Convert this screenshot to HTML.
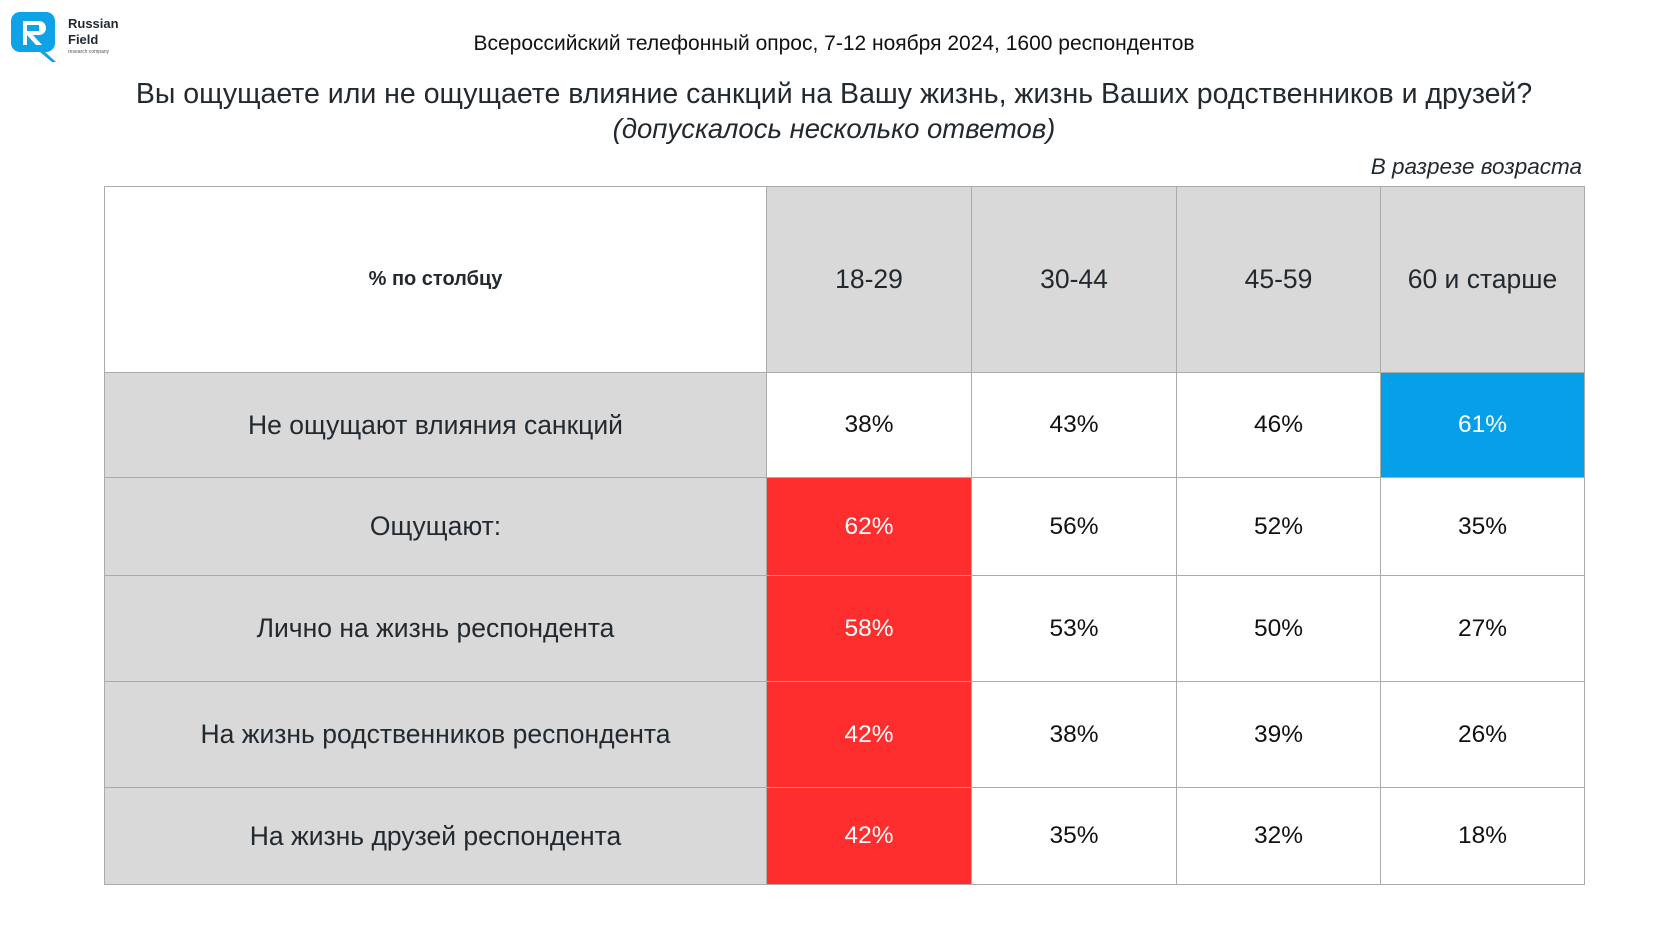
<!DOCTYPE html>
<html><head><meta charset="utf-8">
<style>
html,body{margin:0;padding:0;background:#fff;}
body{width:1680px;height:945px;position:relative;overflow:hidden;font-family:"Liberation Sans","Noto Sans CJK SC",sans-serif;color:#222a30;}
.t{position:absolute;white-space:nowrap;}
.cell{position:absolute;box-sizing:border-box;display:flex;align-items:center;justify-content:center;border:1px solid #ababab;}
</style></head><body>
<div style="position:absolute;left:11px;top:11px;width:110px;height:52px;">
<svg width="48" height="52" viewBox="0 0 48 52">
<path d="M9 1h26a9 9 0 0 1 9 9v22a9 9 0 0 1-9 9h-1l11 10-4 0-12-10H9a9 9 0 0 1-9-9V10a9 9 0 0 1 9-9z" fill="#0ea2e6"/>
<path d="M12 10h16a7 7 0 0 1 0 14h-6l9 10h-6l-9-10v10h-4z" fill="#fff"/>
<rect x="16" y="14" width="12" height="6" fill="#0ea2e6"/>
</svg>
<div class="t" style="left:57px;top:5px;font-size:13px;font-weight:bold;line-height:16px;">Russian<br>Field</div>
<div class="t" style="left:57px;top:38px;font-size:5px;color:#555;">research company</div>
</div>
<div class="t" style="left:0;width:1668px;text-align:center;top:32px;font-size:21px;color:#111;">Всероссийский телефонный опрос, 7-12 ноября 2024, 1600 респондентов</div>
<div class="t" style="left:0;width:1668px;text-align:center;top:78px;font-size:28.5px;">Вы ощущаете или не ощущаете влияние санкций на Вашу жизнь, жизнь Ваших родственников и друзей?</div>
<div class="t" style="left:0;width:1668px;text-align:center;top:113px;font-size:27.5px;font-style:italic;">(допускалось несколько ответов)</div>
<div class="t" style="right:98px;top:154px;font-size:22.5px;font-style:italic;">В разрезе возраста</div>
<div id="table"></div>
<script>
const ageGroups=["18-29","30-44","45-59","60 и старше"];
const rowLabels=["Не ощущают влияния санкций","Ощущают:","Лично на жизнь респондента","На жизнь родственников респондента","На жизнь друзей респондента"];
const vals18_29=[38,62,58,42,42];
const vals30_44=[43,56,53,38,35];
const vals45_59=[46,52,50,39,32];
const vals60plus=[61,35,27,26,18];
const highlight=[["","red","red","red","red"],["","","","",""],["","","","",""],["blue","","","",""]];
const series=[vals18_29,vals30_44,vals45_59,vals60plus];
const colX=[104,766,971,1176,1380,1584];
const rowY=[186,372,477,575,681,787,884];
const tb=document.getElementById('table');
function cell(x0,x1,y0,y1,bg,txt,fs,col,name){
  const d=document.createElement('div');
  d.className='cell';
  
  
  d.style.left=x0+'px';d.style.top=y0+'px';d.style.width=(x1-x0+1)+'px';d.style.height=(y1-y0+1)+'px';
  d.style.background=bg;d.style.fontSize=fs;d.style.color=col;d.textContent=txt;
  tb.appendChild(d);return d;
}
const corner=cell(colX[0],colX[1],rowY[0],rowY[1],'#fff','% по столбцу','20px','#222a30','corner-header');
corner.style.fontWeight='bold';
ageGroups.forEach((g,i)=>{cell(colX[i+1],colX[i+2],rowY[0],rowY[1],'#d9d9d9',g,'26.5px','#222a30','column-header-'+g);});
rowLabels.forEach((r,j)=>{
  cell(colX[0],colX[1],rowY[j+1],rowY[j+2],'#d9d9d9',r,'26.5px','#222a30','row-label');
  series.forEach((s,i)=>{
    const h=highlight[i][j];
    const bg=h==='red'?'#ff2e2e':h==='blue'?'#06a0e8':'#fff';
    cell(colX[i+1],colX[i+2],rowY[j+1],rowY[j+2],bg,s[j]+'%','24.5px',h?'#fff':'#111','value-cell');
  });
});
</script>
</body></html>
